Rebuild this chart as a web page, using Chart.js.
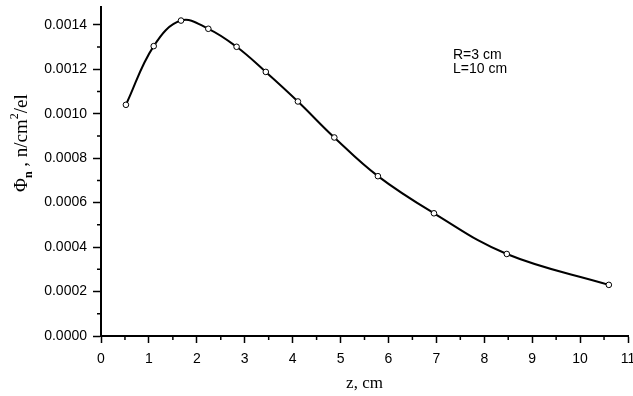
<!DOCTYPE html>
<html lang="en">
<head>
    <meta charset="UTF-8">
    <title>Phi_n vs z</title>
    <script src="https://cdn.jsdelivr.net/npm/chart.js"></script>
    <style>
        html, body { margin: 0; padding: 0; background: #fff; }
        #wrap { width: 633px; height: 396px; }
    </style>
</head>
<body>
<div id="wrap"><canvas id="fluxChart" width="633" height="396"></canvas></div>

<script>
    // values
    const zValues = [0.52, 1.10, 1.67, 2.24, 2.83, 3.44, 4.11, 4.87, 5.78, 6.95, 8.47, 10.60];
    const phiValues = [0.001040, 0.001304, 0.001419, 0.001382, 0.001301, 0.001188,
                       0.001055, 0.000893, 0.000719, 0.000552, 0.000369, 0.000230];
    const xTicks = [0, 1, 2, 3, 4, 5, 6, 7, 8, 9, 10, 11];
    const yTicks = [0.0000, 0.0002, 0.0004, 0.0006, 0.0008, 0.0010, 0.0012, 0.0014];
    const noteLines = ['R=3 cm', 'L=10 cm'];

    const sansFont = "'Liberation Sans', Arial, sans-serif";
    const serifFont = "'Liberation Serif', 'Times New Roman', serif";

    // short minor ticks between the labelled ones
    const minorTicks = {
        id: 'minorTicks',
        afterDraw(chart) {
            const ctx = chart.ctx;
            const xs = chart.scales.x, ys = chart.scales.y;
            const area = chart.chartArea;
            ctx.save();
            ctx.strokeStyle = '#000';
            ctx.lineWidth = 1.5;
            ctx.beginPath();
            for (let i = 0; i < xTicks.length - 1; i++) {
                const px = xs.getPixelForValue((xTicks[i] + xTicks[i + 1]) / 2);
                ctx.moveTo(px, area.bottom);
                ctx.lineTo(px, area.bottom + 4);
            }
            for (let i = 0; i < yTicks.length; i++) {
                const next = i + 1 < yTicks.length ? yTicks[i + 1] : yTicks[i] + (yTicks[1] - yTicks[0]);
                const v = (yTicks[i] + next) / 2;
                if (v > ys.max) continue;
                const py = ys.getPixelForValue(v);
                ctx.moveTo(area.left, py);
                ctx.lineTo(area.left - 4, py);
            }
            ctx.stroke();
            ctx.restore();
        }
    };

    // y title with subscript / superscript, plus the R, L note
    const extraText = {
        id: 'extraText',
        afterDraw(chart) {
            const ctx = chart.ctx;
            const area = chart.chartArea;
            ctx.save();
            ctx.fillStyle = '#000';
            ctx.textBaseline = 'alphabetic';

            // rotated y title
            ctx.translate(27, 192);
            ctx.rotate(-Math.PI / 2);
            let x = 0;
            const part = (txt, font, dy) => {
                ctx.font = font;
                ctx.fillText(txt, x, dy);
                x += ctx.measureText(txt).width;
            };
            part('\u03A6', '19px ' + serifFont, 0);
            part('n', 'bold 12px ' + serifFont, 5);
            part(' , ', '19px ' + serifFont, 0);
            part('n/cm', '19px ' + serifFont, 0);
            part('2', '12px ' + serifFont, -9);
            part('/el', '19px ' + serifFont, 0);
            ctx.restore();

            ctx.save();
            ctx.fillStyle = '#000';
            ctx.font = '14px ' + sansFont;
            ctx.textBaseline = 'alphabetic';
            noteLines.forEach((line, i) => {
                ctx.fillText(line, area.left + 352, 59 + i * 14);
            });
            ctx.restore();
        }
    };

    const points = zValues.map((z, i) => ({ x: z, y: phiValues[i] }));

    new Chart(document.getElementById('fluxChart'), {
        type: 'line',
        data: {
            datasets: [{
                data: points,
                borderColor: '#000',
                borderWidth: 2,
                tension: 0.4,
                pointRadius: 2.8,
                pointBorderWidth: 1,
                pointBackgroundColor: '#fff',
                pointBorderColor: '#000',
                fill: false
            }]
        },
        options: {
            responsive: false,
            animation: false,
            layout: { padding: { left: 0, right: 5, top: 7, bottom: 0 } },
            plugins: {
                legend: { display: false },
                tooltip: { enabled: false }
            },
            scales: {
                x: {
                    type: 'linear',
                    min: 0,
                    max: 11,
                    afterFit(scale) {
                        scale.height = 60;
                        scale.paddingLeft = 0;
                        scale.paddingRight = 0;
                    },
                    afterBuildTicks(scale) {
                        scale.ticks = xTicks.map(v => ({ value: v }));
                    },
                    border: { display: true, color: '#000', width: 2 },
                    grid: { drawOnChartArea: false, tickLength: 7, tickColor: '#000', tickWidth: 1.5 },
                    ticks: {
                        color: '#000',
                        font: { family: sansFont, size: 14 },
                        padding: 8,
                        maxRotation: 0,
                        autoSkip: false
                    },
                    title: {
                        display: true,
                        text: 'z, cm',
                        color: '#000',
                        font: { family: serifFont, size: 17 },
                        padding: { top: 0, bottom: 2 }
                    }
                },
                y: {
                    min: 0,
                    max: 0.00148,
                    afterFit(scale) {
                        scale.width = 101;
                        scale.paddingTop = 0;
                        scale.paddingBottom = 0;
                    },
                    afterBuildTicks(scale) {
                        scale.ticks = yTicks.map(v => ({ value: v }));
                    },
                    border: { display: true, color: '#000', width: 2 },
                    grid: { drawOnChartArea: false, tickLength: 8, tickColor: '#000', tickWidth: 1.5 },
                    ticks: {
                        color: '#000',
                        font: { family: sansFont, size: 14 },
                        padding: 6,
                        autoSkip: false,
                        callback: v => Number(v).toFixed(4)
                    }
                }
            }
        },
        plugins: [minorTicks, extraText]
    });
</script>
</body>
</html>
